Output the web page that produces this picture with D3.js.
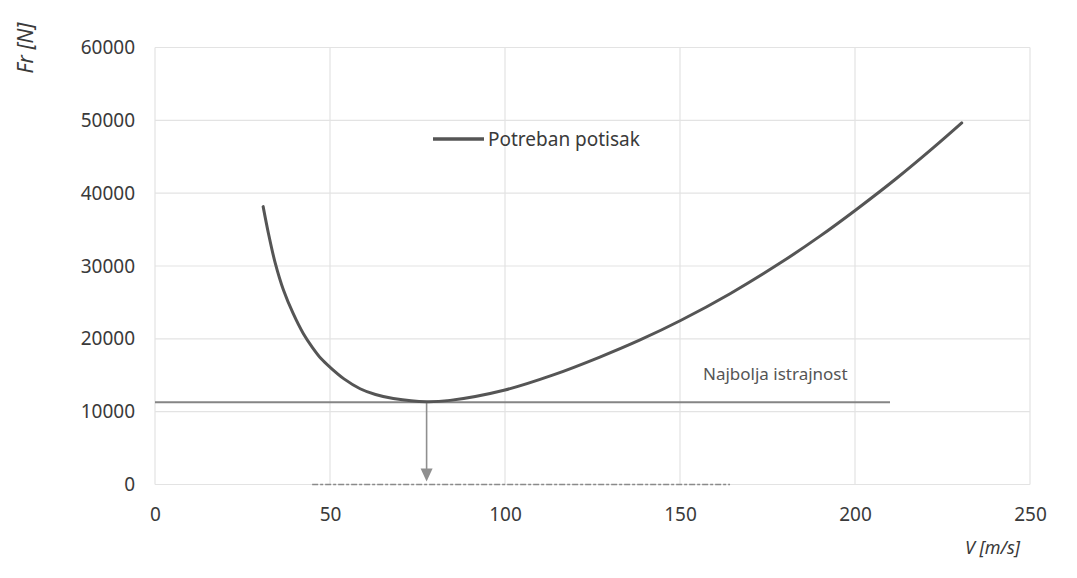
<!DOCTYPE html>
<html>
<head>
<meta charset="utf-8">
<script src="https://cdn.jsdelivr.net/npm/d3@7/dist/d3.min.js"></script>
<style>
  html, body { margin: 0; padding: 0; background: #fff; }
  svg { display: block; }
  text { font-family: "Noto Sans", "Open Sans", sans-serif; }
</style>
</head>
<body>
<svg id="chart" width="1077" height="578"></svg>
<script>
// ---- data ----
const speed = [30.9, 32.4, 34.3, 36.7, 39.5, 42.4, 45, 47.5, 50, 54, 58.6, 63, 68.1, 77.6, 84.3, 100, 113.8, 127.1, 138.6, 150.3, 164.3, 178.6, 190, 200.5, 211.9, 222.4, 230.5];
const thrust = [38150, 34500, 30500, 26700, 23450, 20700, 18800, 17250, 16100, 14500, 13150, 12350, 11800, 11350, 11550, 12980, 15050, 17500, 19850, 22550, 26200, 30400, 34100, 37800, 42050, 46250, 49650];
const xTicks = [0, 50, 100, 150, 200, 250];
const yTicks = [0, 10000, 20000, 30000, 40000, 50000, 60000];
const enduranceLevel = 11300;      // horizontal line value
const enduranceRange = [0, 210];   // horizontal line extent (V)
const bestSpeed = 77.6;            // arrow position (V)
const axisMarkRange = [44.9, 164.3];
const seriesName = "Potreban potisak";
const enduranceLabel = "Najbolja istrajnost";
const xTitle = "V [m/s]";
const yTitle = "Fr [N]";

// ---- layout ----
const svg = d3.select("#chart");
const mLeft = 155, mRight = 1030, mTop = 47.5, mBottom = 484.5;
const x = d3.scaleLinear().domain([0, 250]).range([mLeft, mRight]);
const y = d3.scaleLinear().domain([0, 60000]).range([mBottom, mTop]);

// gridlines
svg.append("g").selectAll("line").data(yTicks).join("line")
  .attr("x1", mLeft).attr("x2", mRight)
  .attr("y1", d => y(d)).attr("y2", d => y(d))
  .attr("stroke", "#e3e3e3").attr("stroke-width", 1.2);
svg.append("g").selectAll("line").data(xTicks).join("line")
  .attr("y1", mTop).attr("y2", mBottom)
  .attr("x1", d => x(d)).attr("x2", d => x(d))
  .attr("stroke", "#e3e3e3").attr("stroke-width", 1.2);

// axes (labels only)
const xAxis = svg.append("g").attr("transform", `translate(0,${mBottom})`)
  .call(d3.axisBottom(x).tickValues(xTicks).tickSize(0).tickPadding(23).tickFormat(d3.format("d")));
const yAxis = svg.append("g").attr("transform", `translate(${mLeft},0)`)
  .call(d3.axisLeft(y).tickValues(yTicks).tickSize(0).tickPadding(20).tickFormat(d3.format("d")));
[xAxis, yAxis].forEach(a => {
  a.select(".domain").remove();
  a.selectAll("text").attr("font-size", 19).attr("fill", "#3a3a3a")
   .style("font-family", '"Noto Sans", sans-serif');
});

// darker segment on the x axis (as in the picture)
svg.append("line")
  .attr("x1", x(axisMarkRange[0])).attr("x2", x(axisMarkRange[1]))
  .attr("y1", y(0)).attr("y2", y(0))
  .attr("stroke", "#8a8a8a").attr("stroke-width", 1.3)
  .attr("stroke-dasharray", "6 2 3 2");

// endurance horizontal line
svg.append("line")
  .attr("x1", x(enduranceRange[0])).attr("x2", x(enduranceRange[1]))
  .attr("y1", y(enduranceLevel)).attr("y2", y(enduranceLevel))
  .attr("stroke", "#858585").attr("stroke-width", 2);

// arrow
const ax = x(bestSpeed);
svg.append("line")
  .attr("x1", ax).attr("x2", ax)
  .attr("y1", y(enduranceLevel)).attr("y2", y(0) - 14)
  .attr("stroke", "#8f8f8f").attr("stroke-width", 1.6);
svg.append("path")
  .attr("d", `M${ax - 6},${y(0) - 16} L${ax + 6},${y(0) - 16} L${ax},${y(0) - 3} Z`)
  .attr("fill", "#8f8f8f");

// thrust curve
const pts = speed.map((v, i) => [v, thrust[i]]);
svg.append("path")
  .datum(pts)
  .attr("fill", "none")
  .attr("stroke", "#555555")
  .attr("stroke-width", 3)
  .attr("stroke-linecap", "round")
  .attr("d", d3.line().x(d => x(d[0])).y(d => y(d[1])).curve(d3.curveCatmullRom.alpha(0.5)));

// legend
svg.append("line")
  .attr("x1", 433).attr("x2", 484).attr("y1", 139).attr("y2", 139)
  .attr("stroke", "#555555").attr("stroke-width", 3.5);
svg.append("text")
  .attr("x", 488).attr("y", 139).attr("dy", "0.35em")
  .attr("font-size", 19).attr("fill", "#3a3a3a")
  .text(seriesName);

// endurance label
svg.append("text")
  .attr("x", 703).attr("y", 374).attr("dy", "0.35em")
  .attr("font-size", 17).attr("fill", "#555555")
  .text(enduranceLabel);

// axis titles
svg.append("text")
  .attr("transform", "translate(33,48) rotate(-90)")
  .attr("text-anchor", "middle")
  .attr("font-size", 21).attr("font-style", "italic").attr("fill", "#3a3a3a")
  .text(yTitle);
svg.append("text")
  .attr("x", 1020).attr("y", 548).attr("dy", "0.35em")
  .attr("text-anchor", "end")
  .attr("font-size", 18).attr("font-style", "italic").attr("fill", "#3a3a3a")
  .text(xTitle);
</script>
</body>
</html>
